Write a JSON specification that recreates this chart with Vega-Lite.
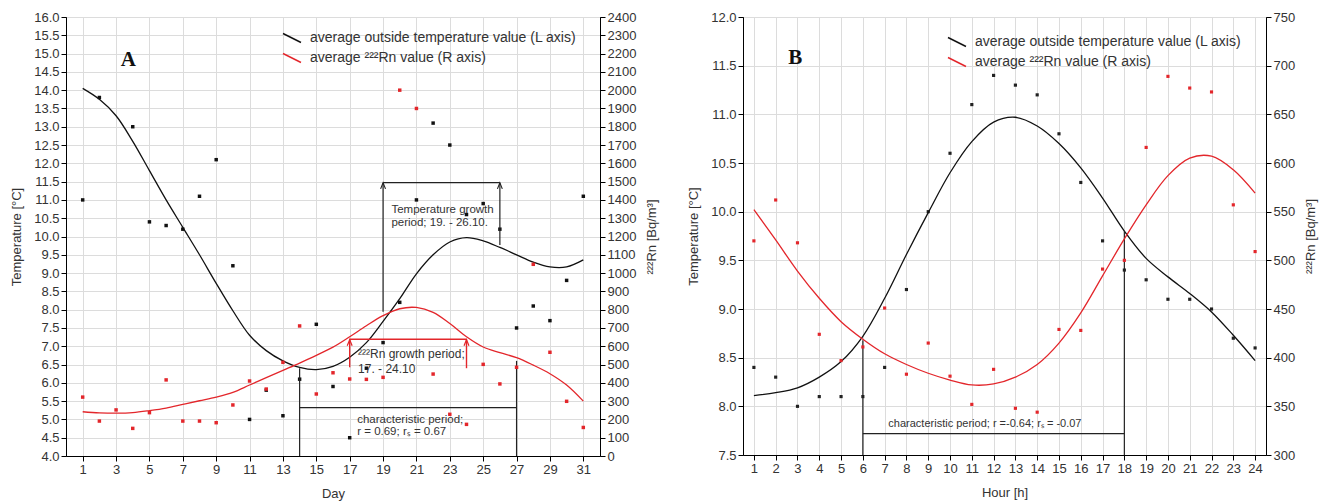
{
  "$schema": "https://vega.github.io/schema/vega-lite/v6.json",
  "background": "white",
  "padding": {"left": 10, "top": 10, "right": 5, "bottom": 5},
  "config": {
    "font": "Liberation Sans",
    "view": {"stroke": "#000", "strokeWidth": 1},
    "axis": {
      "labelFont": "Liberation Sans", "labelFontSize": 13, "labelColor": "#333",
      "titleFont": "Liberation Sans", "titleFontSize": 13, "titleFontWeight": "normal", "titleColor": "#333",
      "domainColor": "#000", "tickColor": "#000", "gridColor": "#dcdcdc", "labelFlush": false, "labelOverlap": false
    },
    "legend": {
      "orient": "none", "title": null, "labelFont": "Liberation Sans", "labelFontSize": 14, "labelColor": "#333", "labelLimit": 0,
      "symbolType": "M-1,-0.5L1,0.5", "symbolSize": 324, "symbolStrokeWidth": 1.4, "rowPadding": 2, "labelOffset": 8
    }
  },
  "datasets": {
    "a_temp_pts": [
      {"day": 1, "t": 11.0}, {"day": 2, "t": 13.8}, {"day": 4, "t": 13.0}, {"day": 5, "t": 10.4}, {"day": 6, "t": 10.3},
      {"day": 7, "t": 10.2}, {"day": 8, "t": 11.1}, {"day": 9, "t": 12.1}, {"day": 10, "t": 9.2}, {"day": 11, "t": 5.0},
      {"day": 12, "t": 5.8}, {"day": 13, "t": 5.1}, {"day": 14, "t": 6.1}, {"day": 15, "t": 7.6}, {"day": 16, "t": 5.9},
      {"day": 17, "t": 4.5}, {"day": 18, "t": 6.4}, {"day": 19, "t": 7.1}, {"day": 20, "t": 8.2}, {"day": 21, "t": 11.0},
      {"day": 22, "t": 13.1}, {"day": 23, "t": 12.5}, {"day": 24, "t": 10.6}, {"day": 25, "t": 10.9}, {"day": 26, "t": 10.2},
      {"day": 27, "t": 7.5}, {"day": 28, "t": 8.1}, {"day": 29, "t": 7.7}, {"day": 30, "t": 8.8}, {"day": 31, "t": 11.1}
    ],
    "a_temp_fit": [
      {"day": 1, "t": 14.05}, {"day": 2, "t": 13.75}, {"day": 3, "t": 13.3}, {"day": 4, "t": 12.6}, {"day": 5, "t": 11.8},
      {"day": 6, "t": 11.0}, {"day": 7, "t": 10.25}, {"day": 8, "t": 9.5}, {"day": 9, "t": 8.72}, {"day": 10, "t": 7.97},
      {"day": 11, "t": 7.3}, {"day": 12, "t": 6.88}, {"day": 13, "t": 6.6}, {"day": 14, "t": 6.42}, {"day": 15, "t": 6.36},
      {"day": 16, "t": 6.45}, {"day": 17, "t": 6.7}, {"day": 18, "t": 7.1}, {"day": 19, "t": 7.68}, {"day": 20, "t": 8.3},
      {"day": 21, "t": 8.98}, {"day": 22, "t": 9.5}, {"day": 23, "t": 9.85}, {"day": 24, "t": 9.97}, {"day": 25, "t": 9.88},
      {"day": 26, "t": 9.7}, {"day": 27, "t": 9.5}, {"day": 28, "t": 9.3}, {"day": 29, "t": 9.17}, {"day": 30, "t": 9.17},
      {"day": 31, "t": 9.36}
    ],
    "a_rn_pts": [
      {"day": 1, "rn": 322}, {"day": 2, "rn": 191}, {"day": 3, "rn": 252}, {"day": 4, "rn": 151}, {"day": 5, "rn": 237},
      {"day": 6, "rn": 416}, {"day": 7, "rn": 191}, {"day": 8, "rn": 191}, {"day": 9, "rn": 182}, {"day": 10, "rn": 279},
      {"day": 11, "rn": 410}, {"day": 12, "rn": 366}, {"day": 13, "rn": 512}, {"day": 14, "rn": 711}, {"day": 15, "rn": 339},
      {"day": 16, "rn": 455}, {"day": 17, "rn": 421}, {"day": 18, "rn": 419}, {"day": 19, "rn": 430}, {"day": 20, "rn": 2000},
      {"day": 21, "rn": 1900}, {"day": 22, "rn": 448}, {"day": 23, "rn": 228}, {"day": 24, "rn": 173}, {"day": 25, "rn": 501},
      {"day": 26, "rn": 394}, {"day": 27, "rn": 485}, {"day": 28, "rn": 1048}, {"day": 29, "rn": 567}, {"day": 30, "rn": 299},
      {"day": 31, "rn": 156}
    ],
    "a_rn_fit": [
      {"day": 1, "rn": 242}, {"day": 2, "rn": 236}, {"day": 3, "rn": 234}, {"day": 4, "rn": 237}, {"day": 5, "rn": 248},
      {"day": 6, "rn": 262}, {"day": 7, "rn": 282}, {"day": 8, "rn": 302}, {"day": 9, "rn": 322}, {"day": 10, "rn": 348},
      {"day": 11, "rn": 388}, {"day": 12, "rn": 428}, {"day": 13, "rn": 468}, {"day": 14, "rn": 508}, {"day": 15, "rn": 550},
      {"day": 16, "rn": 595}, {"day": 17, "rn": 652}, {"day": 18, "rn": 712}, {"day": 19, "rn": 767}, {"day": 20, "rn": 805},
      {"day": 21, "rn": 812}, {"day": 22, "rn": 785}, {"day": 23, "rn": 724}, {"day": 24, "rn": 652}, {"day": 25, "rn": 596},
      {"day": 26, "rn": 565}, {"day": 27, "rn": 538}, {"day": 28, "rn": 497}, {"day": 29, "rn": 450}, {"day": 30, "rn": 388},
      {"day": 31, "rn": 300}
    ],
    "a_black_rules": [
      {"day": 19, "day2": 19, "t": 7.94, "t2": 11.47},
      {"day": 26, "day2": 26, "t": 9.77, "t2": 11.47},
      {"day": 19, "day2": 26, "t": 11.47, "t2": 11.47},
      {"day": 14, "day2": 14, "t": 4.0, "t2": 6.4},
      {"day": 27, "day2": 27, "t": 4.0, "t2": 6.6},
      {"day": 14, "day2": 27, "t": 5.32, "t2": 5.32}
    ],
    "a_black_heads": [{"day": 19, "t": 11.47}, {"day": 26, "t": 11.47}],
    "a_red_rules": [
      {"day": 17, "day2": 17, "rn": 485, "rn2": 638},
      {"day": 24, "day2": 24, "rn": 480, "rn2": 638},
      {"day": 17, "day2": 24, "rn": 638, "rn2": 638}
    ],
    "a_red_heads": [{"day": 17, "rn": 636}, {"day": 24, "rn": 636}],
    "a_notes": [
      {"day": 19.5, "t": 10.73, "label": "Temperature growth"},
      {"day": 19.5, "t": 10.36, "label": "period; 19. - 26.10."},
      {"day": 17.45, "t": 4.98, "label": "characteristic period;"},
      {"day": 17.45, "t": 4.65, "label": "r = 0.69; rₛ = 0.67"}
    ],
    "a_rn_notes": [
      {"day": 17.5, "t": 6.78, "label": "²²²Rn growth period;"},
      {"day": 17.5, "t": 6.38, "label": "17. - 24.10"}
    ],
    "a_letter": [{"day": 3.73, "t": 14.83, "label": "A"}],
    "b_temp_pts": [
      {"hour": 1, "t": 8.4}, {"hour": 2, "t": 8.3}, {"hour": 3, "t": 8.0}, {"hour": 4, "t": 8.1}, {"hour": 5, "t": 8.1},
      {"hour": 6, "t": 8.1}, {"hour": 7, "t": 8.4}, {"hour": 8, "t": 9.2}, {"hour": 9, "t": 10.0}, {"hour": 10, "t": 10.6},
      {"hour": 11, "t": 11.1}, {"hour": 12, "t": 11.4}, {"hour": 13, "t": 11.3}, {"hour": 14, "t": 11.2}, {"hour": 15, "t": 10.8},
      {"hour": 16, "t": 10.3}, {"hour": 17, "t": 9.7}, {"hour": 18, "t": 9.4}, {"hour": 19, "t": 9.3}, {"hour": 20, "t": 9.1},
      {"hour": 21, "t": 9.1}, {"hour": 22, "t": 9.0}, {"hour": 23, "t": 8.7}, {"hour": 24, "t": 8.6}
    ],
    "b_temp_fit": [
      {"hour": 1, "t": 8.11}, {"hour": 2, "t": 8.14}, {"hour": 3, "t": 8.19}, {"hour": 4, "t": 8.3}, {"hour": 5, "t": 8.46},
      {"hour": 6, "t": 8.72}, {"hour": 7, "t": 9.11}, {"hour": 8, "t": 9.56}, {"hour": 9, "t": 9.99}, {"hour": 10, "t": 10.4},
      {"hour": 11, "t": 10.72}, {"hour": 12, "t": 10.92}, {"hour": 13, "t": 10.97}, {"hour": 14, "t": 10.88}, {"hour": 15, "t": 10.7},
      {"hour": 16, "t": 10.45}, {"hour": 17, "t": 10.14}, {"hour": 18, "t": 9.8}, {"hour": 19, "t": 9.52}, {"hour": 20, "t": 9.33},
      {"hour": 21, "t": 9.16}, {"hour": 22, "t": 8.97}, {"hour": 23, "t": 8.73}, {"hour": 24, "t": 8.47}
    ],
    "b_rn_pts": [
      {"hour": 1, "rn": 520}, {"hour": 2, "rn": 562}, {"hour": 3, "rn": 518}, {"hour": 4, "rn": 424}, {"hour": 5, "rn": 397},
      {"hour": 6, "rn": 411}, {"hour": 7, "rn": 451}, {"hour": 8, "rn": 383}, {"hour": 9, "rn": 415}, {"hour": 10, "rn": 381},
      {"hour": 11, "rn": 352}, {"hour": 12, "rn": 388}, {"hour": 13, "rn": 348}, {"hour": 14, "rn": 344}, {"hour": 15, "rn": 429},
      {"hour": 16, "rn": 428}, {"hour": 17, "rn": 491}, {"hour": 18, "rn": 500}, {"hour": 19, "rn": 616}, {"hour": 20, "rn": 689},
      {"hour": 21, "rn": 677}, {"hour": 22, "rn": 673}, {"hour": 23, "rn": 557}, {"hour": 24, "rn": 509}
    ],
    "b_rn_fit": [
      {"hour": 1, "rn": 552}, {"hour": 2, "rn": 521}, {"hour": 3, "rn": 489}, {"hour": 4, "rn": 461}, {"hour": 5, "rn": 437},
      {"hour": 6, "rn": 419}, {"hour": 7, "rn": 404}, {"hour": 8, "rn": 393}, {"hour": 9, "rn": 384}, {"hour": 10, "rn": 377},
      {"hour": 11, "rn": 372}, {"hour": 12, "rn": 373}, {"hour": 13, "rn": 380}, {"hour": 14, "rn": 393}, {"hour": 15, "rn": 415},
      {"hour": 16, "rn": 446}, {"hour": 17, "rn": 484}, {"hour": 18, "rn": 522}, {"hour": 19, "rn": 557}, {"hour": 20, "rn": 587},
      {"hour": 21, "rn": 605}, {"hour": 22, "rn": 607}, {"hour": 23, "rn": 593}, {"hour": 24, "rn": 569}
    ],
    "b_black_rules": [
      {"hour": 6, "hour2": 6, "t": 7.5, "t2": 8.68},
      {"hour": 18, "hour2": 18, "t": 7.5, "t2": 9.8},
      {"hour": 6, "hour2": 18, "t": 7.72, "t2": 7.72}
    ],
    "b_notes": [{"hour": 7.17, "t": 7.82, "label": "characteristic period; r =-0.64; rₛ = -0.07"}],
    "b_letter": [{"hour": 2.9, "t": 11.58, "label": "B"}]
  },
  "hconcat": [
    {
      "width": 534,
      "height": 439,
      "encoding": {
        "x": {
          "field": "day", "type": "quantitative",
          "scale": {"domain": [0, 32], "nice": false, "zero": false},
          "axis": {"title": "Day", "values": [1, 3, 5, 7, 9, 11, 13, 15, 17, 19, 21, 23, 25, 27, 29, 31], "grid": true, "titlePadding": 11}
        }
      },
      "layer": [
        {
          "encoding": {
            "y": {
              "field": "t", "type": "quantitative",
              "scale": {"domain": [4, 16], "nice": false, "zero": false},
              "axis": {"orient": "left", "title": "Temperature [°C]", "format": ".1f", "grid": true, "titlePadding": 10,
                "values": [4, 4.5, 5, 5.5, 6, 6.5, 7, 7.5, 8, 8.5, 9, 9.5, 10, 10.5, 11, 11.5, 12, 12.5, 13, 13.5, 14, 14.5, 15, 15.5, 16]}
            }
          },
          "layer": [
            {"data": {"name": "a_temp_pts"}, "mark": {"type": "point", "shape": "square", "filled": true, "size": 12, "color": "#111", "opacity": 1}},
            {"data": {"name": "a_temp_fit"}, "mark": {"type": "line", "interpolate": "catmull-rom", "strokeWidth": 1.3},
              "encoding": {"color": {"datum": "average outside temperature value (L axis)", "type": "nominal",
                "scale": {"domain": ["average outside temperature value (L axis)", "average ²²²Rn value (R axis)"], "range": ["#111111", "#e3262b"]},
                "legend": {"legendX": 216, "legendY": 11}}}},
            {"data": {"name": "a_black_rules"}, "mark": {"type": "rule", "color": "#222", "strokeWidth": 1.2},
              "encoding": {"x2": {"field": "day2"}, "y2": {"field": "t2"}}},
            {"data": {"name": "a_black_heads"}, "mark": {"type": "point", "shape": "M-0.4,1L0,0L0.4,1", "filled": false, "size": 150, "color": "#222", "strokeWidth": 1.1, "opacity": 1}},
            {"data": {"name": "a_notes"}, "mark": {"type": "text", "align": "left", "baseline": "middle", "fontSize": 11.5, "color": "#333"},
              "encoding": {"text": {"field": "label"}}},
            {"data": {"name": "a_rn_notes"}, "mark": {"type": "text", "align": "left", "baseline": "middle", "fontSize": 12, "color": "#333"},
              "encoding": {"text": {"field": "label"}}},
            {"data": {"name": "a_letter"}, "mark": {"type": "text", "align": "center", "baseline": "middle", "font": "Liberation Serif", "fontWeight": "bold", "fontSize": 21, "color": "#111"},
              "encoding": {"text": {"field": "label"}}}
          ]
        },
        {
          "encoding": {
            "y": {
              "field": "rn", "type": "quantitative",
              "scale": {"domain": [0, 2400], "nice": false, "zero": false},
              "axis": {"orient": "right", "title": "²²²Rn [Bq/m³]", "titleAngle": 270, "titleBaseline": "top", "format": "d", "grid": false, "titlePadding": 10,
                "values": [0, 100, 200, 300, 400, 500, 600, 700, 800, 900, 1000, 1100, 1200, 1300, 1400, 1500, 1600, 1700, 1800, 1900, 2000, 2100, 2200, 2300, 2400]}
            }
          },
          "layer": [
            {"data": {"name": "a_rn_pts"}, "mark": {"type": "point", "shape": "square", "filled": true, "size": 12, "color": "#e3262b", "opacity": 1}},
            {"data": {"name": "a_rn_fit"}, "mark": {"type": "line", "interpolate": "catmull-rom", "strokeWidth": 1.3},
              "encoding": {"color": {"datum": "average ²²²Rn value (R axis)", "type": "nominal",
                "scale": {"domain": ["average outside temperature value (L axis)", "average ²²²Rn value (R axis)"], "range": ["#111111", "#e3262b"]},
                "legend": {"legendX": 216, "legendY": 11}}}},
            {"data": {"name": "a_red_rules"}, "mark": {"type": "rule", "color": "#e3262b", "strokeWidth": 1.4},
              "encoding": {"x2": {"field": "day2"}, "y2": {"field": "rn2"}}},
            {"data": {"name": "a_red_heads"}, "mark": {"type": "point", "shape": "M-0.4,1L0,0L0.4,1", "filled": false, "size": 150, "color": "#e3262b", "strokeWidth": 1.2, "opacity": 1}}
          ]
        }
      ],
      "resolve": {"scale": {"y": "independent"}}
    },
    {
      "width": 523,
      "height": 438,
      "encoding": {
        "x": {
          "field": "hour", "type": "quantitative",
          "scale": {"domain": [0.5, 24.5], "nice": false, "zero": false},
          "axis": {"title": "Hour [h]", "values": [1, 2, 3, 4, 5, 6, 7, 8, 9, 10, 11, 12, 13, 14, 15, 16, 17, 18, 19, 20, 21, 22, 23, 24], "grid": true, "titlePadding": 11}
        }
      },
      "layer": [
        {
          "encoding": {
            "y": {
              "field": "t", "type": "quantitative",
              "scale": {"domain": [7.5, 12], "nice": false, "zero": false},
              "axis": {"orient": "left", "title": "Temperature [°C]", "format": ".1f", "grid": true, "titlePadding": 10,
                "values": [7.5, 8, 8.5, 9, 9.5, 10, 10.5, 11, 11.5, 12]}
            }
          },
          "layer": [
            {"data": {"name": "b_temp_pts"}, "mark": {"type": "point", "shape": "square", "filled": true, "size": 10, "color": "#222", "opacity": 1}},
            {"data": {"name": "b_temp_fit"}, "mark": {"type": "line", "interpolate": "catmull-rom", "strokeWidth": 1.3},
              "encoding": {"color": {"datum": "average outside temperature value (L axis)", "type": "nominal",
                "scale": {"domain": ["average outside temperature value (L axis)", "average ²²²Rn value (R axis)"], "range": ["#111111", "#e3262b"]},
                "legend": {"legendX": 204, "legendY": 15}}}},
            {"data": {"name": "b_black_rules"}, "mark": {"type": "rule", "color": "#222", "strokeWidth": 1.2},
              "encoding": {"x2": {"field": "hour2"}, "y2": {"field": "t2"}}},
            {"data": {"name": "b_notes"}, "mark": {"type": "text", "align": "left", "baseline": "middle", "fontSize": 11, "color": "#333"},
              "encoding": {"text": {"field": "label"}}},
            {"data": {"name": "b_letter"}, "mark": {"type": "text", "align": "center", "baseline": "middle", "font": "Liberation Serif", "fontWeight": "bold", "fontSize": 21, "color": "#111"},
              "encoding": {"text": {"field": "label"}}}
          ]
        },
        {
          "encoding": {
            "y": {
              "field": "rn", "type": "quantitative",
              "scale": {"domain": [300, 750], "nice": false, "zero": false},
              "axis": {"orient": "right", "title": "²²²Rn [Bq/m³]", "titleAngle": 270, "titleBaseline": "top", "format": "d", "grid": false, "titlePadding": 10,
                "values": [300, 350, 400, 450, 500, 550, 600, 650, 700, 750]}
            }
          },
          "layer": [
            {"data": {"name": "b_rn_pts"}, "mark": {"type": "point", "shape": "square", "filled": true, "size": 10, "color": "#e3262b", "opacity": 1}},
            {"data": {"name": "b_rn_fit"}, "mark": {"type": "line", "interpolate": "catmull-rom", "strokeWidth": 1.3},
              "encoding": {"color": {"datum": "average ²²²Rn value (R axis)", "type": "nominal",
                "scale": {"domain": ["average outside temperature value (L axis)", "average ²²²Rn value (R axis)"], "range": ["#111111", "#e3262b"]},
                "legend": {"legendX": 204, "legendY": 15}}}}
          ]
        }
      ],
      "resolve": {"scale": {"y": "independent"}}
    }
  ],
  "spacing": 27,
  "resolve": {"scale": {"color": "independent"}, "legend": {"color": "independent"}}
}
